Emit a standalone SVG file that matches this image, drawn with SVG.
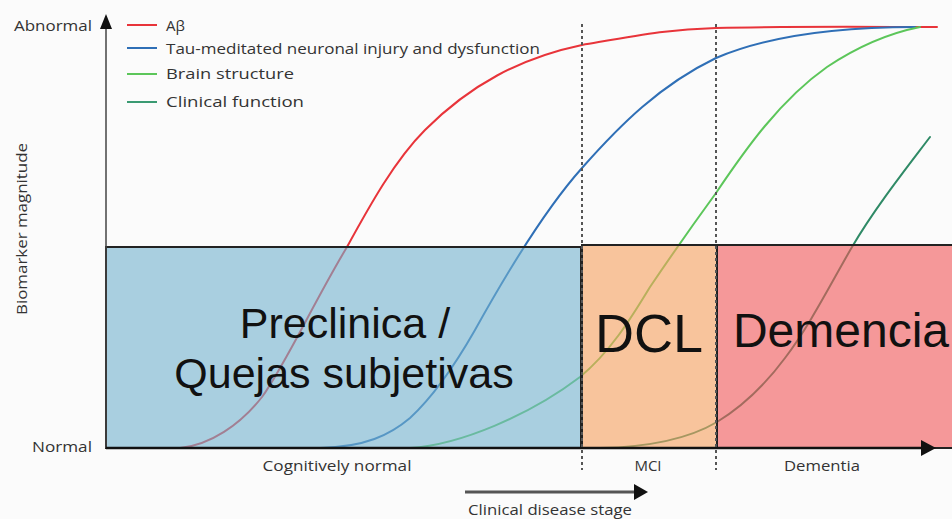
<svg xmlns="http://www.w3.org/2000/svg" width="952" height="519" viewBox="0 0 952 519">
<defs>
<style>
.lbl{font-family:"Open Sans","Liberation Sans",sans-serif;font-size:15px;fill:#333}
.big{font-family:"Liberation Sans",Arial,sans-serif;fill:#111}
.curve{fill:none;stroke-width:2;stroke-linecap:round}
.box{stroke:#222;stroke-width:2;fill-opacity:0.6}
.dash{stroke:#555;stroke-width:2;stroke-dasharray:3 3;fill:none}
</style>
</defs>
<rect x="0" y="0" width="952" height="519" fill="#fbfbfb"/>

<g id="curves">
<path class="curve" stroke="#e8343a" d="M180,448 C210,445 240,425 262,397 C285,365 315,300 347,247 C370,205 395,160 425,130 C470,85 520,58 582,45 C640,35 670,29 716,28 C800,26 880,27 937,27"/>
<path class="curve" stroke="#2f6fb6" d="M320,448 C365,447 390,435 410,418 C435,395 455,365 475,330 C500,285 540,215 582,168 C620,125 660,85 716,58 C770,35 840,27 915,27"/>
<path class="curve" stroke="#5cc65a" d="M410,448 C460,445 530,415 580,377 C610,352 630,320 650,287 C675,250 700,215 716,193 C745,150 780,100 827,67 C860,45 890,33 920,27"/>
<path class="curve" stroke="#2f8a66" d="M600,448 C650,447 690,438 717,422 C745,405 765,385 785,358 C810,325 830,285 852,247 C875,208 905,170 930,137"/>
</g>

<g id="node-preclinica">
<rect class="box" x="106" y="247" width="475" height="201" fill="#73b2cf"/>
<text class="big" x="345" y="338" font-size="43" text-anchor="middle">Preclinica /</text>
<text class="big" x="344" y="388" font-size="43" text-anchor="middle">Quejas subjetivas</text>
</g>
<g id="node-dcl">
<rect class="box" x="582" y="245" width="135" height="203" fill="#f7a05d"/>
<text class="big" x="649" y="352" font-size="54" text-anchor="middle">DCL</text>
</g>
<g id="node-demencia">
<rect class="box" x="717" y="245" width="240" height="203" fill="#f25758"/>
<text class="big" x="841" y="347" font-size="48" text-anchor="middle">Demencia</text>
</g>

<g id="axes">
<line x1="106" y1="26" x2="106" y2="448" stroke="#444" stroke-width="1.5"/>
<polygon points="106,14 100,29 112,29" fill="#111"/>
<line x1="106" y1="448" x2="924" y2="448" stroke="#111" stroke-width="2.5"/>
<polygon points="936,448 921,440 921,456" fill="#111"/>
<line class="dash" x1="582" y1="24" x2="582" y2="470"/>
<line class="dash" x1="716" y1="24" x2="716" y2="470"/>
<line x1="465" y1="492" x2="636" y2="492" stroke="#555" stroke-width="3"/>
<polygon points="648,492 634,484 634,500" fill="#111"/>
</g>

<g id="legend">
<line x1="127" y1="25" x2="157" y2="25" stroke="#e8343a" stroke-width="2"/>
<line x1="127" y1="48" x2="157" y2="48" stroke="#2f6fb6" stroke-width="2"/>
<line x1="127" y1="74" x2="157" y2="74" stroke="#5cc65a" stroke-width="2"/>
<line x1="127" y1="102" x2="157" y2="102" stroke="#3a9a72" stroke-width="2"/>
<text class="lbl" x="166" y="31">Aβ</text>
<text class="lbl" x="166" y="54" textLength="374" lengthAdjust="spacingAndGlyphs">Tau-meditated neuronal injury and dysfunction</text>
<text class="lbl" x="166" y="79" textLength="128" lengthAdjust="spacingAndGlyphs">Brain structure</text>
<text class="lbl" x="166" y="107" textLength="138" lengthAdjust="spacingAndGlyphs">Clinical function</text>
</g>

<g id="axis-labels">
<text class="lbl" x="92" y="31" text-anchor="end" textLength="78" lengthAdjust="spacingAndGlyphs">Abnormal</text>
<text class="lbl" x="92" y="452" text-anchor="end" textLength="60" lengthAdjust="spacingAndGlyphs">Normal</text>
<text class="lbl" transform="translate(27,229) rotate(-90)" text-anchor="middle" textLength="172" lengthAdjust="spacingAndGlyphs">Biomarker magnitude</text>
<text class="lbl" x="337" y="471" text-anchor="middle" textLength="149" lengthAdjust="spacingAndGlyphs">Cognitively normal</text>
<text class="lbl" x="648" y="471" text-anchor="middle">MCI</text>
<text class="lbl" x="822" y="471" text-anchor="middle" textLength="76" lengthAdjust="spacingAndGlyphs">Dementia</text>
<text class="lbl" x="550" y="515" text-anchor="middle" textLength="164" lengthAdjust="spacingAndGlyphs">Clinical disease stage</text>
</g>
</svg>
